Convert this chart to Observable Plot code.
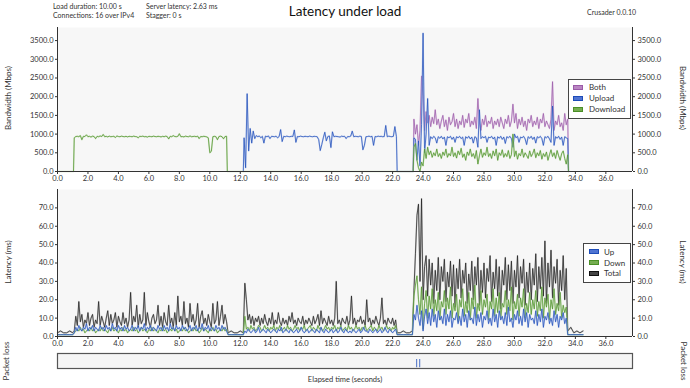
<!DOCTYPE html>
<html><head><meta charset="utf-8">
<script src="https://cdn.jsdelivr.net/npm/d3@7"></script>
<script src="https://cdn.jsdelivr.net/npm/@observablehq/plot@0.6"></script>
<style>
body{margin:0;background:#fff;font-family:Lato,"Open Sans",sans-serif;}
#root{position:relative;width:690px;height:388px;overflow:hidden;background:#fff;}
.abs{position:absolute;white-space:nowrap;color:#333;line-height:1;}
.c{transform:translate(-50%,-50%);}
.rl{transform:translate(-50%,-50%) rotate(-90deg);}
.rr{transform:translate(-50%,-50%) rotate(90deg);}
.plot{position:absolute;left:0;}
.legend{position:absolute;background:#fff;border:1px solid #444;box-sizing:border-box;font-size:8px;color:#333;}
.legend .sw{position:absolute;width:10px;height:5px;box-sizing:border-box;}
.legend .tx{position:absolute;transform:translateY(-50%);white-space:nowrap;line-height:1;}
</style></head><body><div id="root"></div>
<script>
// ---------- axis ticks ----------
const X_MAX = 37.75;
const xTicks = [0, 2, 4, 6, 8, 10, 12, 14, 16, 18, 20, 22, 24, 26, 28, 30, 32, 34, 36];
const bwTicks = [0, 500, 1000, 1500, 2000, 2500, 3000, 3500];
const latTicks = [0, 10, 20, 30, 40, 50, 60, 70];
const BW_MAX = 3850, LAT_MAX = 80;

// ---------- bandwidth (Mbps), sampled every 0.1 s ----------
const downloadA = [900,935,940,930,960,850,940,935,980,930, 940,920,945,935,880,940,930,950,935,990,
 930,940,925,945,930,935,940,910,950,935, 930,945,935,930,940,925,940,935,930,945,
 935,930,900,940,935,945,930,935,920,940, 935,930,945,935,930,940,935,925,940,930,
 945,935,870,940,930,960,935,930,940,1010, 930,935,925,945,935,930,950,930,935,940,
 930,945,880,935,930,940,935,925,900,500, 540,930,940,930,850,935,945,930,875,935,940]; // 1.1 s ..
const downloadB = [650,750,300,100,0,250,150,600,350,650, 450,550,380,500,420,600,400,480,350,520,
 430,600,380,480,420,650,400,500,360,550, 450,620,380,470,300,520,430,600,400,480,
 350,560,200,420,600,380,500,430,650,400, 480,350,550,420,600,300,500,430,580,380,
 480,400,560,350,450,1000,400,550,330,480, 420,600,380,500,430,350,550,400,480,600,
 370,500,420,560,330,480,400,520,300,450, 580,400,500,350,560,420,300,480,550,350, 200,450]; // 23.4 s ..
const uploadA = [900,100,2080,550,1150,760,1080,880,960,930, 950,900,940,760,945,930,950,880,940,935,
 930,945,900,935,1120,800,940,930,945,935, 930,940,935,1110,780,935,930,945,935,930,
 940,935,930,945,935,930,940,935,930,850, 560,720,900,1050,820,935,950,640,1060,930,
 940,935,930,920,945,935,940,880,935,930, 945,1080,930,940,935,930,945,935,580,700,
 930,935,945,930,940,700,935,930,945,935, 940,930,935,1230,930,945,935,930,940,1200, 935]; // 12.25 s ..
const uploadB = [900,860,300,820,150,1250,3700,500,1000,1950, 700,930,880,940,900,760,930,890,940,870,
 920,700,930,900,940,860,920,780,930,900, 940,880,920,700,930,890,940,870,920,760,
 930,900,650,1650,880,930,900,940,780,920, 900,940,870,920,700,930,890,940,860,920,
 750,930,900,940,880,650,1000,900,940,780, 920,900,940,870,720,930,890,940,860,920,
 760,930,900,940,880,700,930,900,940,870, 780,1750,700,930,890,940,860,920,700,930, 900,880]; // 23.4 s ..
const bothB = [1400,1000,1250,700,1100,2550,2000,1100,1600,1300, 1500,1200,1450,1280,1650,1250,1400,1150,1350,1500,
 1200,1380,1100,1450,1250,1330,1550,1200,1400,1150, 1350,1250,1500,1180,1400,1300,1550,1200,1350,1250,
 1450,1150,1950,1300,1100,1400,1250,1500,1200,1350, 1280,1450,1150,1350,1250,1400,1200,1450,1300,1150,
 1400,1280,1500,1200,1350,1800,1300,1550,1150,1400, 1250,1450,1200,1350,1100,1400,1300,1500,1200,1350,
 1250,1450,1150,1400,1300,1550,1200,1350,1250,1150, 1400,2400,1100,1350,1250,1500,1200,1300,1100,1550, 1250,1400]; // 23.4 s ..
// idle (zero) points [time, Mbps]
const downloadIdle = [[0,0],[1.05,0],[11.15,0],[23.35,0],[33.55,0]];
const uploadIdle = [[12.2,0],[22.3,0],[23.35,0],[33.55,0]];
const bothIdle = [[23.35,0],[33.55,0]];

// ---------- latency (ms) ----------
const idleTotal1 = [2,3,2,2,3,2], idleTotal2 = [2,3,2,2,3,2], idleTotal3 = [2,2,3,2,2,3], idleTotal4 = [3,5,2,3,2,3];
const idleDown = [1,1,1,1,1,1], idleUp = [1,1,1,1,1,1];
const totalA = [3,11,6,19,8,12,5,9,7,13, 6,10,12,5,9,7,19,6,11,8, 5,10,14,6,12,7,9,13,5,11,
 8,6,13,7,10,5,9,24,6,11, 8,17,5,12,7,9,24,6,13,8, 5,10,12,7,9,17,6,11,5,13,
 8,6,17,7,10,5,13,6,22,8, 11,6,19,7,10,5,18,8,12,6, 9,18,5,11,14,7,10,6,12,8,
 5,18,7,9,19,6,11,17,7,12,8];
const downA = [2,3,4,3,5,3,4,2,3,4, 3,5,3,4,2,3,4,3,5,3, 4,3,2,4,3,5,3,4,3,2, 4,3,5,3,4,2,3,4,3,5,
 3,4,2,3,5,3,4,3,2,4, 3,5,3,4,3,2,4,3,5,3, 4,2,3,4,3,5,3,4,2,3, 4,3,5,3,4,2,3,4,3,5,
 3,4,2,3,5,3,4,3,2,4, 3,5,3,4,2,3,4,3,5,3, 4];
const upA = [2,5,3,6,4,3,5,4,7,3, 5,4,6,3,5,4,3,6,4,5, 3,6,4,5,3,7,4,5,3,6, 4,5,3,6,4,5,3,4,6,3,
 5,4,6,3,5,4,7,3,5,4, 6,3,5,4,3,6,4,5,3,6, 4,5,3,7,4,5,3,6,4,5, 3,6,4,5,3,4,6,3,5,4,
 6,3,5,4,7,3,5,4,6,3, 5,4,3,6,4,5,3,6,4,5, 3];
const totalB = [29,20,9,12,7,11,6,10,8,11, 6,10,7,12,8,6,10,7,13,6, 9,7,13,8,6,10,7,9,6,11,
 8,13,7,9,6,10,8,7,11,6, 9,7,10,8,6,11,7,9,12,6, 14,7,10,8,6,11,7,9,6,10,
 30,7,9,6,10,8,7,11,6,9, 22,7,10,6,9,8,11,7,9,6, 20,8,10,6,9,7,11,8,6,10,
 21,7,9,6,10,8,7,10,6,9];
const downB = [11,4,5,3,6,4,5,3,4,6, 5,3,4,6,4,5,3,5,4,6, 3,5,4,6,3,4,5,3,6,4, 5,3,4,6,4,5,3,5,4,6,
 3,4,5,6,3,5,4,3,6,4, 5,3,4,6,4,5,3,5,4,6, 3,5,4,6,3,4,5,3,6,4, 5,3,4,6,4,5,3,5,4,6,
 3,4,5,6,3,5,4,3,6,4, 5,3,4,6,4,5,3,5,4,6];
const upB = [3,2,4,3,2,3,4,2,3,5, 2,3,4,3,2,4,3,2,3,4, 3,2,4,3,5,2,3,4,3,2, 4,3,2,3,4,2,3,5,3,2,
 3,4,2,3,4,3,2,4,3,2, 5,3,2,4,3,2,3,4,2,3, 4,2,3,5,3,2,4,3,2,3, 2,4,3,2,3,4,2,3,5,3,
 3,2,4,3,2,3,4,2,3,4, 2,3,5,3,2,4,3,2,3,4];
const totalC = [25,45,66,72,30,75,20,38,44,22, 42,28,40,18,36,25,43,20,38,30, 42,19,35,27,41,22,39,16,37,26,
 42,21,36,29,40,18,34,25,41,20, 38,28,43,17,36,24,40,21,37,30, 44,19,35,26,42,22,38,15,36,28,
 43,20,39,25,41,18,36,27,44,21, 38,29,42,17,35,24,40,20,37,28, 45,19,38,26,43,22,52,18,40,27,
 47,21,38,29,42,17,36,25,44,20, 37];
const downC = [22,28,33,20,12,27,4,18,25,10, 22,15,26,11,20,14,24,9,19,16, 25,12,21,15,27,10,18,14,23,8,
 20,16,26,11,19,13,24,9,21,15, 28,10,18,14,25,12,20,16,23,9, 19,15,26,11,21,13,24,10,18,16,
 25,12,20,14,27,9,19,15,23,11, 21,16,26,10,18,13,24,12,20,15, 25,11,19,14,27,10,21,16,23,9,
 20,15,26,12,18,14,24,10,17,13, 16];
const upC = [12,9,17,10,6,14,3,11,15,7, 13,6,15,8,12,5,14,9,11,7, 15,6,12,8,14,5,10,9,13,7,
 11,6,15,8,12,5,14,9,10,7, 16,6,12,8,13,5,11,9,14,7, 10,6,15,8,12,5,14,9,11,7,
 13,6,16,8,10,5,12,9,14,7, 11,6,15,8,13,5,12,9,10,7, 14,6,12,8,15,5,11,9,13,7,
 10,6,14,8,12,5,11,9,13,7, 10];

// ---------- packet loss (s) ----------
const lossTimes = [23.58, 23.78];

// ---------- build tables ----------
const r2 = v => Math.round(v * 100) / 100;
function seg(t0, step, vals) { return vals.map((v, i) => ({t: r2(t0 + i * step), v})); }
function pts(arr) { return arr.map(([t, v]) => ({t, v})); }
const byT = (a, b) => a.t - b.t;

const downloadData = [...pts(downloadIdle), ...seg(1.1, 0.1, downloadA), ...seg(23.4, 0.1, downloadB)].sort(byT);
const uploadData = [...pts(uploadIdle), ...seg(12.25, 0.1, uploadA), ...seg(23.4, 0.1, uploadB)].sort(byT);
const bothData = [...pts(bothIdle), ...seg(23.4, 0.1, bothB)].sort(byT);

function latSeries(i1, a, i2, b, i3, c, i4) {
  return [...seg(0, 0.2, i1), ...seg(1.1, 0.1, a), ...seg(11.2, 0.2, i2), ...seg(12.3, 0.1, b),
          ...seg(22.3, 0.2, i3), ...seg(23.4, 0.1, c), ...seg(33.5, 0.2, i4)].sort(byT);
}
const totalData = latSeries(idleTotal1, totalA, idleTotal2, totalB, idleTotal3, totalC, idleTotal4);
const downData = latSeries(idleDown, downA, idleDown, downB, idleDown, downC, idleDown);
const upData = latSeries(idleUp, upA, idleUp, upB, idleUp, upC, idleUp);

// ---------- colours ----------
const C = {both: "#9a5aa8", bothL: "#d3add9", up: "#1d4cb8", upL: "#a3b8ea", down: "#4a8f26", downL: "#b4d69c",
           tot: "#1c1c1c", totL: "#a0a0a0"};

const fmt = d3.format(".1f");
const root = document.getElementById("root");
const baseStyle = {fontFamily: "Lato, 'Open Sans', sans-serif", fontSize: "7.5px", color: "#333", background: "transparent", overflow: "visible"};

function axes(yTicks) {
  return [
    Plot.ruleX([0, X_MAX], {stroke: "#333", strokeWidth: 1}),
    Plot.ruleY([0], {stroke: "#333", strokeWidth: 1}),
    Plot.axisX({ticks: xTicks, tickFormat: fmt, tickSize: 3, tickPadding: 1.5, label: null}),
    Plot.axisY({anchor: "left", ticks: yTicks, tickFormat: fmt, tickSize: 2, tickPadding: 2, label: null}),
    Plot.axisY({anchor: "right", ticks: yTicks, tickFormat: fmt, tickSize: 2, tickPadding: 3, label: null})
  ];
}
function halo(data, light, dark) {
  return [
    Plot.line(data, {x: "t", y: "v", stroke: light, strokeWidth: 1.5, strokeOpacity: 0.6}),
    Plot.line(data, {x: "t", y: "v", stroke: dark, strokeWidth: 0.7})
  ];
}

const topPlot = Plot.plot({
  width: 690, height: 165, marginTop: 7, marginBottom: 14, marginLeft: 57, marginRight: 58,
  x: {domain: [0, X_MAX]}, y: {domain: [0, BW_MAX]}, style: baseStyle,
  marks: [
    Plot.frame({fill: "#f7f7f7", stroke: "none"}),
    ...halo(bothData, C.bothL, C.both),
    ...halo(uploadData, C.upL, C.up),
    ...halo(downloadData, C.downL, C.down),
    ...axes(bwTicks)
  ]
});
topPlot.classList.add("plot"); topPlot.style.top = "20px";
root.appendChild(topPlot);

const latPlot = Plot.plot({
  width: 690, height: 168, marginTop: 7, marginBottom: 14, marginLeft: 57, marginRight: 58,
  x: {domain: [0, X_MAX]}, y: {domain: [0, LAT_MAX]}, style: baseStyle,
  marks: [
    Plot.frame({fill: "#f7f7f7", stroke: "none"}),
    ...halo(totalData, C.totL, C.tot),
    ...halo(downData, C.downL, C.down),
    ...halo(upData, C.upL, C.up),
    ...axes(latTicks)
  ]
});
latPlot.classList.add("plot"); latPlot.style.top = "182px";
root.appendChild(latPlot);

const lossPlot = Plot.plot({
  width: 690, height: 22, marginTop: 3, marginBottom: 4, marginLeft: 57, marginRight: 58,
  x: {domain: [0, X_MAX], axis: null}, y: {domain: [0, 1], axis: null}, style: baseStyle,
  marks: [
    Plot.frame({fill: "#f5f5f5", stroke: "#555", strokeWidth: 1.2}),
    Plot.ruleX(lossTimes, {x: d => d, y1: 0.05, y2: 0.6, stroke: C.up, strokeWidth: 0.8})
  ]
});
lossPlot.classList.add("plot"); lossPlot.style.top = "350px";
root.appendChild(lossPlot);

// ---------- text ----------
function txt(s, x, y, cls, size, extra) {
  const d = document.createElement("div");
  d.className = "abs " + cls; d.textContent = s;
  d.style.left = x + "px"; d.style.top = y + "px"; d.style.fontSize = size + "px";
  if (extra) Object.assign(d.style, extra);
  root.appendChild(d); return d;
}
txt("Load duration: 10.00 s", 53, 3, "", 7);
txt("Connections: 16 over IPv4", 53, 12, "", 7);
txt("Server latency: 2.63 ms", 146, 3, "", 7);
txt("Stagger: 0 s", 146, 12, "", 7);
txt("Latency under load", 345, 12, "c", 13.5, {color: "#111"});
txt("Crusader 0.0.10", 636, 12, "", 7, {transform: "translate(-100%,-50%)"});
txt("Bandwidth (Mbps)", 8, 98, "rl", 8);
txt("Bandwidth (Mbps)", 683, 98, "rr", 8);
txt("Latency (ms)", 8, 262, "rl", 8);
txt("Latency (ms)", 683, 262, "rr", 8);
txt("Packet loss", 6, 361, "rl", 8);
txt("Packet loss", 684, 361, "rr", 8);
txt("Elapsed time (seconds)", 345, 380, "c", 7.5);

// ---------- legends ----------
function legend(x, y, w, h, items, swX, txX, rowYs) {
  const L = document.createElement("div");
  L.className = "legend";
  Object.assign(L.style, {left: x + "px", top: y + "px", width: w + "px", height: h + "px"});
  items.forEach(([name, fill, stroke], i) => {
    const sw = document.createElement("div"); sw.className = "sw";
    Object.assign(sw.style, {left: swX + "px", top: (rowYs[i] - 2.5) + "px", background: fill, border: "1px solid " + stroke});
    const tx = document.createElement("div"); tx.className = "tx"; tx.textContent = name;
    Object.assign(tx.style, {left: txX + "px", top: rowYs[i] + "px"});
    L.appendChild(sw); L.appendChild(tx);
  });
  root.appendChild(L);
}
legend(568, 79, 63, 40, [["Both", "#b985c2", C.both], ["Upload", "#4f74d2", C.up], ["Download", "#75ad50", C.down]], 4, 20, [7, 18, 29]);
legend(583, 243, 48, 40, [["Up", "#4f74d2", C.up], ["Down", "#75ad50", C.down], ["Total", "#444", "#111"]], 5, 20, [7.5, 18.5, 29]);
</script>
</body></html>
